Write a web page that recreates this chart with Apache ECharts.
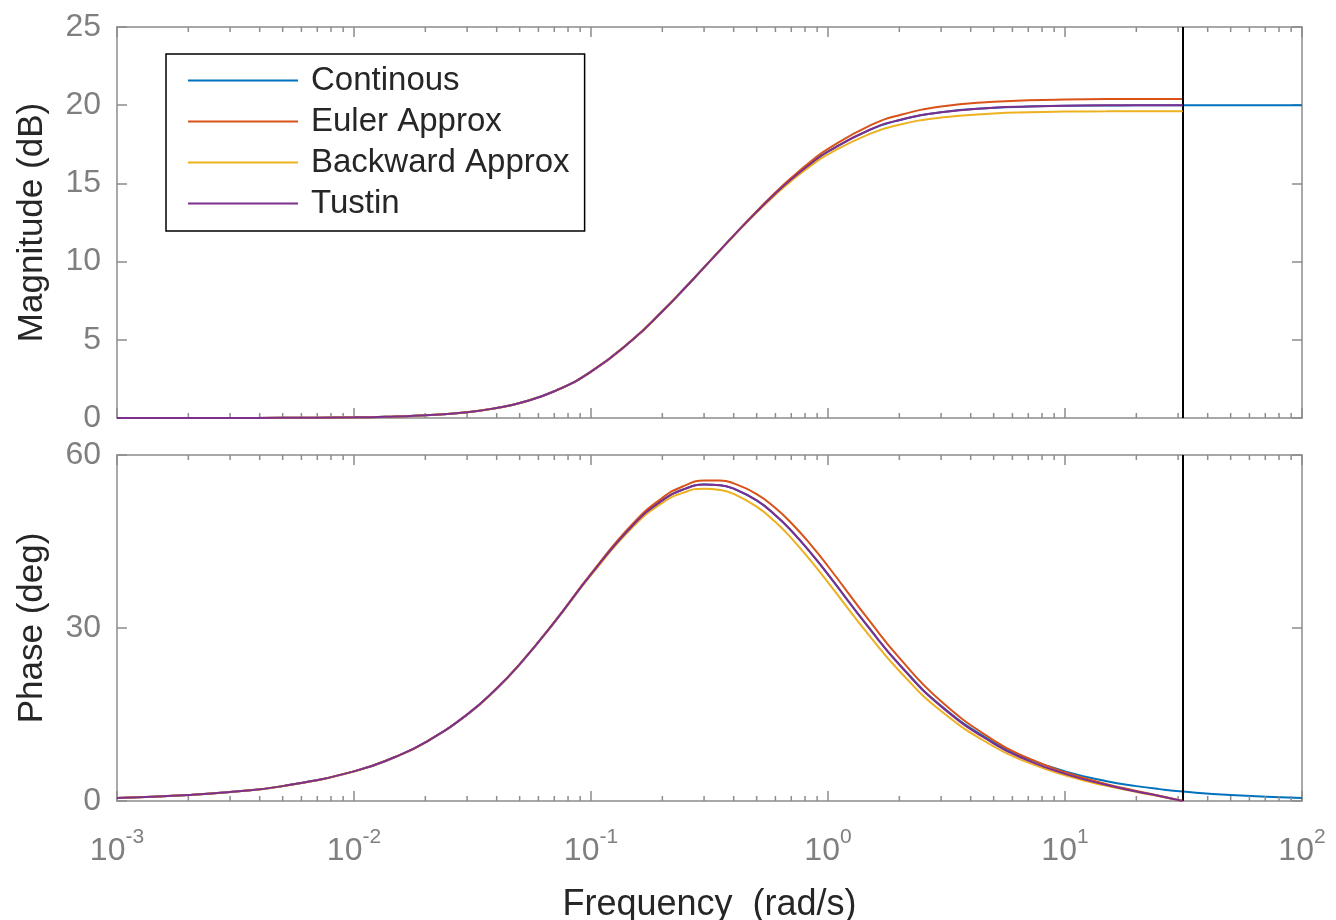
<!DOCTYPE html>
<html>
<head>
<meta charset="utf-8">
<script src="https://cdn.jsdelivr.net/npm/echarts@6/dist/echarts.min.js"></script>
<style>html,body{margin:0;padding:0;background:#fff;}#c{width:1336px;height:920px;}</style>
</head>
<body>
<div id="c"></div>
<script>
// Frequencies (rad/s)
const freq = [0.001, 0.002, 0.003, 0.005, 0.01, 0.015, 0.02, 0.03, 0.04, 0.05, 0.07, 0.1, 0.15, 0.2, 0.25, 0.3, 0.35, 0.4, 0.5, 0.6, 0.7, 0.85, 1, 1.5, 2, 3, 5, 7, 10, 15, 20, 25, 31.4, 50, 100];

// Continuous (whole range)
const contMag = [0.00, 0.00, 0.00, 0.01, 0.04, 0.10, 0.17, 0.37, 0.64, 0.96, 1.71, 2.97, 5.02, 6.82, 8.34, 9.63, 10.72, 11.66, 13.18, 14.35, 15.26, 16.29, 17.03, 18.42, 19.04, 19.55, 19.83, 19.91, 19.96, 19.98, 19.99, 19.99, 20.00, 20.00, 20.00];
const contPhase = [0.52, 1.03, 1.55, 2.58, 5.14, 7.67, 10.16, 14.98, 19.51, 23.70, 30.99, 39.29, 47.78, 52.12, 54.16, 54.87, 54.77, 54.16, 52.13, 49.57, 46.88, 42.93, 39.29, 29.88, 23.70, 16.53, 10.16, 7.31, 5.14, 3.43, 2.58, 2.06, 1.64, 1.03, 0.52];

// Discrete approximations (up to the Nyquist frequency)
const eulerMag = [0.00, 0.00, 0.00, 0.01, 0.04, 0.10, 0.17, 0.37, 0.64, 0.95, 1.70, 2.95, 5.00, 6.80, 8.33, 9.62, 10.73, 11.68, 13.23, 14.42, 15.36, 16.43, 17.21, 18.69, 19.36, 19.91, 20.22, 20.31, 20.36, 20.39, 20.40, 20.40, 20.40];
const eulerPhase = [0.52, 1.03, 1.55, 2.58, 5.14, 7.68, 10.18, 15.01, 19.54, 23.73, 31.05, 39.43, 48.07, 52.56, 54.74, 55.57, 55.58, 55.08, 53.23, 50.80, 48.20, 44.33, 40.71, 31.18, 24.81, 17.30, 10.52, 7.42, 4.98, 2.93, 1.75, 0.90, 0.00];

const backMag = [0.00, 0.00, 0.00, 0.01, 0.04, 0.10, 0.17, 0.37, 0.64, 0.96, 1.72, 2.98, 5.04, 6.84, 8.35, 9.63, 10.71, 11.64, 13.14, 14.28, 15.16, 16.15, 16.86, 18.17, 18.75, 19.21, 19.47, 19.55, 19.59, 19.61, 19.62, 19.62, 19.62];
const backPhase = [0.52, 1.03, 1.54, 2.57, 5.13, 7.65, 10.14, 14.95, 19.48, 23.68, 30.93, 39.15, 47.49, 51.69, 53.59, 54.16, 53.95, 53.25, 51.04, 48.37, 45.59, 41.56, 37.90, 28.57, 22.55, 15.60, 9.45, 6.66, 4.46, 2.62, 1.57, 0.81, 0.00];

const tustinMag = [0.00, 0.00, 0.00, 0.01, 0.04, 0.10, 0.17, 0.37, 0.64, 0.96, 1.71, 2.97, 5.02, 6.82, 8.34, 9.63, 10.72, 11.66, 13.18, 14.35, 15.26, 16.29, 17.04, 18.43, 19.05, 19.55, 19.84, 19.92, 19.96, 19.99, 20.00, 20.00, 20.00];
const tustinPhase = [0.52, 1.03, 1.55, 2.58, 5.14, 7.67, 10.16, 14.98, 19.51, 23.70, 30.99, 39.29, 47.78, 52.12, 54.16, 54.87, 54.77, 54.16, 52.12, 49.56, 46.87, 42.91, 39.28, 29.83, 23.63, 16.41, 9.96, 7.01, 4.71, 2.76, 1.66, 0.86, 0.00];

const seriesNames = ['Continous', 'Euler Approx', 'Backward Approx', 'Tustin'];
const colors = ['#0072BD', '#D95319', '#EDB120', '#7E2F8E'];
const nyquist = 31.42;

const minorTicks = [];
[0.001, 0.01, 0.1, 1, 10].forEach(function (d) { for (let k = 2; k <= 9; k++) minorTicks.push(+(d * k).toPrecision(3)); });

const magRange = [0, 25], magStep = 5;
const phaseRange = [0, 60], phaseStep = 30;

const FONT = 'Liberation Sans, Arial, Helvetica, sans-serif';
const AX = '#8c8c8c';
const TICKTXT = '#7f7f7f';
const DARK = '#262626';

function pairs(vals) { return vals.map(function (v, i) { return [freq[i], v]; }); }

function xAx(grid, pos, labels) {
  const a = {
    type: 'log', logBase: 10, gridIndex: grid, position: pos, min: 0.001, max: 100, splitNumber: 5,
    axisLine: { show: true, onZero: false, lineStyle: { color: AX, width: 1.5 } },
    axisTick: { show: true, inside: true, length: 10, lineStyle: { color: AX, width: 1.5 } },
    splitLine: { show: false }, minorTick: { show: false },
    axisLabel: { show: false }
  };
  if (labels) {
    a.axisLabel = {
      show: true, margin: 26, color: TICKTXT, fontFamily: FONT, hideOverlap: false,
      formatter: function (v) { return '{b|10}{s|' + Math.round(Math.log10(v)) + '}'; },
      rich: {
        b: { fontSize: 32, lineHeight: 48, fontFamily: FONT, color: TICKTXT, verticalAlign: 'middle' },
        s: { fontSize: 21, lineHeight: 22, fontFamily: FONT, color: TICKTXT, verticalAlign: 'top' }
      }
    };
    a.name = 'Frequency  (rad/s)';
    a.nameLocation = 'middle';
    a.nameGap = 86;
    a.nameTextStyle = { fontSize: 36, color: DARK, fontFamily: FONT };
  }
  return a;
}
function yAx(grid, pos, range, step, name) {
  const a = {
    type: 'value', gridIndex: grid, position: pos, min: range[0], max: range[1], interval: step,
    axisLine: { show: true, onZero: false, lineStyle: { color: AX, width: 1.5 } },
    axisTick: { show: true, inside: true, length: 10, lineStyle: { color: AX, width: 1.5 } },
    splitLine: { show: false },
    axisLabel: { show: false }
  };
  if (name) {
    a.axisLabel = { show: true, margin: 16, color: TICKTXT, fontSize: 32, fontFamily: FONT };
    a.name = name;
    a.nameLocation = 'middle';
    a.nameGap = 67;
    a.nameTextStyle = { fontSize: 35, color: DARK, fontFamily: FONT };
  }
  return a;
}

function minorSeries(xi, yi, range) {
  return {
    type: 'custom', name: '_minor' + xi, xAxisIndex: xi, yAxisIndex: yi, silent: true, clip: false, z: 5,
    data: minorTicks.map(function (v) { return [v, range[0]]; }),
    renderItem: function (params, api) {
      const v = api.value(0);
      const pb = api.coord([v, range[0]]);
      const pt = api.coord([v, range[1]]);
      const st = { stroke: AX, lineWidth: 1.5 };
      return { type: 'group', children: [
        { type: 'line', shape: { x1: pb[0], y1: pb[1], x2: pb[0], y2: pb[1] - 5 }, style: st },
        { type: 'line', shape: { x1: pt[0], y1: pt[1], x2: pt[0], y2: pt[1] + 5 }, style: st }
      ] };
    }
  };
}

const magData = [contMag, eulerMag, backMag, tustinMag];
const phaseData = [contPhase, eulerPhase, backPhase, tustinPhase];
const series = [];
seriesNames.forEach(function (n, i) {
  const base = { type: 'line', name: n, symbol: 'none', showSymbol: false, smooth: 0.5,
    color: colors[i], lineStyle: { color: colors[i], width: 2 }, z: 3 + i, animation: false };
  series.push(Object.assign({}, base, { xAxisIndex: 0, yAxisIndex: 0, data: pairs(magData[i]) }));
  series.push(Object.assign({}, base, { xAxisIndex: 2, yAxisIndex: 2, data: pairs(phaseData[i]) }));
});
const nyqLine = { silent: true, symbol: ['none', 'none'], label: { show: false },
  lineStyle: { color: '#000', width: 2, type: 'solid' }, data: [{ xAxis: nyquist }] };
series[6].markLine = nyqLine;
series[7].markLine = nyqLine;
series.push(minorSeries(0, 0, magRange));
series.push(minorSeries(2, 2, phaseRange));

const chart = echarts.init(document.getElementById('c'), null, { renderer: 'canvas' });
chart.setOption({
  backgroundColor: '#fff',
  animation: false,
  grid: [
    { left: 117, top: 27, width: 1185, height: 391, outerBoundsMode: 'none', containLabel: false },
    { left: 117, top: 455, width: 1185, height: 346, outerBoundsMode: 'none', containLabel: false }
  ],
  xAxis: [xAx(0, 'bottom', false), xAx(0, 'top', false), xAx(1, 'bottom', true), xAx(1, 'top', false)],
  yAxis: [yAx(0, 'left', magRange, magStep, 'Magnitude (dB)'), yAx(0, 'right', magRange, magStep, null),
          yAx(1, 'left', phaseRange, phaseStep, 'Phase (deg)'), yAx(1, 'right', phaseRange, phaseStep, null)],
  legend: {
    data: seriesNames.map(function (n) { return { name: n, icon: 'rect' }; }),
    orient: 'vertical', left: 166, top: 54,
    backgroundColor: '#fff', borderColor: '#000', borderWidth: 1.5, borderRadius: 0,
    padding: [6, 15, 7, 22], itemGap: 0, itemWidth: 110, itemHeight: 2,
    textStyle: { fontSize: 33, fontFamily: FONT, color: DARK, lineHeight: 41, padding: [0, 0, 0, 8] },
    selectedMode: false
  },
  series: series
});
</script>
</body>
</html>
